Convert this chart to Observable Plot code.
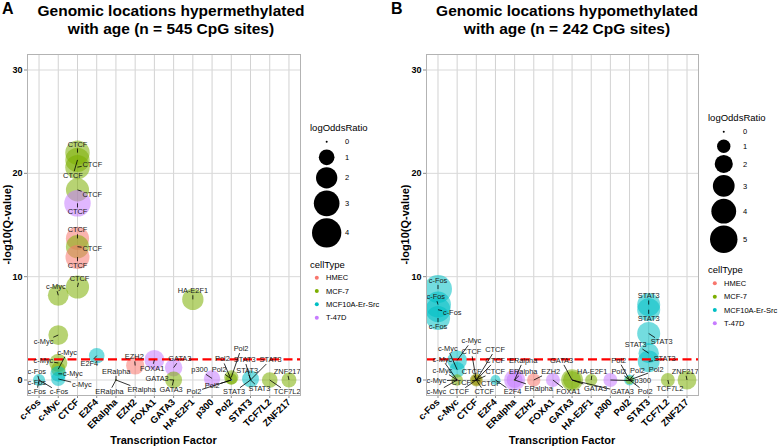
<!DOCTYPE html>
<html><head><meta charset="utf-8">
<script src="https://cdn.jsdelivr.net/npm/d3@7"></script>
<script src="https://cdn.jsdelivr.net/npm/@observablehq/plot@0.6"></script>
<style>
body{margin:0;background:#fff;font-family:"Liberation Sans",Arial,sans-serif;}
#root{position:relative;width:779px;height:447px;overflow:hidden;background:#fff;}
.abs{position:absolute;}
.title{font-weight:bold;font-size:15.5px;line-height:18.5px;text-align:center;color:#000;white-space:nowrap;}
.tag{font-weight:bold;font-size:16px;line-height:16px;color:#000;}
.ytitle{font-weight:bold;font-size:11px;line-height:11px;height:11px;width:200px;text-align:center;transform:rotate(-90deg);white-space:nowrap;color:#000;}
.xtitle{font-weight:bold;font-size:11px;line-height:11px;width:200px;text-align:center;white-space:nowrap;color:#000;}
#root svg g[aria-label^="x-axis"] text,#root svg g[aria-label^="y-axis"] text{font-weight:bold;fill:#000;}
#root svg g[aria-label^="x-axis"] text{font-size:9.5px;}
#root svg g[aria-label^="y-axis"] text{font-size:9px;}
#root svg g[aria-label^="x-axis"] path,#root svg g[aria-label^="y-axis"] path,#root svg g[aria-label^="x-axis"] line,#root svg g[aria-label^="y-axis"] line{stroke:#8a8a8a;}
</style></head>
<body><div id="root"></div>
<script>
// ---------- data ----------
const tfNames = ["c-Fos","c-Myc","CTCF","E2F4","ERalpha","EZH2","FOXA1","GATA3","HA-E2F1","p300","Pol2","STAT3","TCF7L2","ZNF217"];
const cellTypes = ["HMEC","MCF-7","MCF10A-Er-Src","T-47D"];
const cellColors = ["#F8766D","#7CAE00","#00BFC4","#C77CFF"];
const yTicks = [0,10,20,30];
const qCutoff = 2;
const sizeBreaksA = [0,1,2,3,4];
const sizeBreaksB = [0,1,2,3,4,5];

// Panel A: hypermethylated with age
const hyperTF = ["c-Fos","c-Fos","c-Fos","c-Fos",
  "c-Myc","c-Myc","c-Myc","c-Myc","c-Myc","c-Myc",
  "CTCF","CTCF","CTCF","CTCF","CTCF","CTCF","CTCF","CTCF","CTCF",
  "E2F4","ERalpha","ERalpha","ERalpha","EZH2","FOXA1",
  "GATA3","GATA3","GATA3","HA-E2F1","p300",
  "Pol2","Pol2","Pol2","Pol2","Pol2",
  "STAT3","STAT3","STAT3","STAT3","STAT3","TCF7L2","ZNF217"];
const hyperCell = ["MCF10A-Er-Src","HMEC","MCF-7","T-47D",
  "MCF-7","MCF-7","MCF-7","MCF-7","MCF10A-Er-Src","MCF10A-Er-Src",
  "MCF-7","MCF-7","MCF-7","MCF-7","T-47D","HMEC","MCF-7","HMEC","MCF-7",
  "MCF10A-Er-Src","MCF-7","T-47D","MCF-7","HMEC","T-47D",
  "T-47D","MCF-7","MCF-7","MCF-7","T-47D",
  "MCF-7","MCF-7","HMEC","T-47D","MCF10A-Er-Src",
  "MCF10A-Er-Src","MCF10A-Er-Src","MCF10A-Er-Src","MCF10A-Er-Src","MCF10A-Er-Src","MCF-7","MCF-7"];
const hyperQ = [0.0,0.0,0.0,0.0,
  8.2,4.35,1.65,1.05,0.6,0.1,
  22.0,21.3,20.6,18.4,17.1,13.7,12.9,11.9,9.0,
  2.35,0,0,0,1.4,1.95,
  1.2,0.0,0,7.8,0.15,
  0.25,0.1,0,0,0,
  0.1,0,0,0,0,0.0,0.0];
const hyperLOR = [0.55,0,0,0,
  1.9,1.7,1.4,0.8,1.0,0.8,
  2.7,2.7,2.7,2.4,3.2,2.4,2.4,2.6,2.4,
  1.0,0,0,0,1.4,1.7,
  1.3,1.2,0,2.0,1.1,
  0.8,0.5,0,0,0,
  1.2,0,0,0,0,1.0,0.9];

// Panel B: hypomethylated with age
const hypoTF = ["c-Fos","c-Fos","c-Fos","c-Fos",
  "c-Myc","c-Myc","c-Myc","c-Myc","c-Myc","c-Myc",
  "CTCF","CTCF","CTCF","CTCF","CTCF","CTCF","CTCF","CTCF","CTCF",
  "E2F4","ERalpha","ERalpha","ERalpha","EZH2","FOXA1",
  "GATA3","GATA3","GATA3","HA-E2F1","p300",
  "Pol2","Pol2","Pol2","Pol2","Pol2",
  "STAT3","STAT3","STAT3","STAT3","STAT3","TCF7L2","ZNF217"];
const hypoCell = ["MCF10A-Er-Src","MCF10A-Er-Src","MCF10A-Er-Src","MCF10A-Er-Src",
  "MCF10A-Er-Src","MCF10A-Er-Src","MCF-7","HMEC","MCF-7","T-47D",
  "MCF-7","HMEC","MCF-7","MCF-7","HMEC","T-47D","MCF10A-Er-Src","MCF-7","T-47D",
  "MCF10A-Er-Src","T-47D","T-47D","MCF-7","HMEC","T-47D",
  "MCF-7","MCF-7","T-47D","MCF-7","T-47D",
  "MCF10A-Er-Src","MCF-7","HMEC","T-47D","MCF-7",
  "MCF10A-Er-Src","MCF10A-Er-Src","MCF10A-Er-Src","MCF10A-Er-Src","MCF10A-Er-Src","MCF-7","MCF-7"];
const hypoQ = [8.8,7.3,6.8,6.0,
  1.9,1.0,0.0,0,0,0,
  0,0,0,0,0,0,0,0,0,
  0,0,0,0,0,0,
  0,0,0,0,0,
  0,0,0,0,0,
  7.3,6.8,4.5,2.6,1.8,0,0];
const hypoLOR = [5.2,4.4,4.0,3.8,
  2.4,1.4,0.7,0,0,0,
  0.9,0.7,0.6,0,0,0,0,0,0,
  0.5,2.8,1.5,0,1.0,1.1,
  3.0,2.0,0,0.8,1.1,
  0.6,0.3,0,0,0,
  3.4,3.4,3.4,2.6,3.0,1.1,2.2];

// ---------- helpers ----------
const root = document.getElementById("root");
const ctx = document.createElement("canvas").getContext("2d");
const LABEL_FS = 7.4;
ctx.font = LABEL_FS + "px 'Liberation Sans', Arial, sans-serif";
function textW(s){ return ctx.measureText(s).width; }

// simple force-directed label repulsion (ggrepel-like), in pixel space
function repel(pts, sizes, box){
  const n = pts.length;
  const L = pts.map((p,i)=>{ const a = i*2.399963 + 0.7; return {x:p.x+2*Math.cos(a), y:p.y+4*Math.sin(a)}; });
  const pad = 2.0, pr = 3, VY = 3;
  const clampL = (a,i)=>{ const w2 = sizes[i].w/2, h2 = sizes[i].h/2;
    a.x = Math.max(box.x0+w2, Math.min(box.x1-w2, a.x));
    a.y = Math.max(box.y0+h2, Math.min(box.y1-h2, a.y)); };
  const iters = 5000;
  for (let it=0; it<iters; it++){
    const mv = [];
    const k = it < 3500 ? 0.009 : 0.002;
    for (let i=0;i<n;i++){
      const a = L[i], wa = sizes[i].w/2+pad, ha = sizes[i].h/2+pad;
      let fx=0, fy=0;
      for (let j=0;j<n;j++){
        const p = pts[j];
        let dx = a.x-p.x, dy = a.y-p.y;
        const ox = wa+pr-Math.abs(dx), oy = ha+pr-Math.abs(dy);
        if (ox>0 && oy>0){
          let ux = dx, uy = dy*VY, d = Math.hypot(ux,uy);
          if (d<1e-3){ const ang=i*2.399963; ux=Math.cos(ang); uy=Math.sin(ang); d=1; }
          const m = Math.min(ox,oy);
          fx += ux/d*m*0.4; fy += uy/d*m*0.4;
        }
        if (j!==i){
          const b = L[j], wb = sizes[j].w/2+pad, hb = sizes[j].h/2+pad;
          let ex = a.x-b.x, ey = a.y-b.y;
          const qx = wa+wb-Math.abs(ex), qy = ha+hb-Math.abs(ey);
          if (qx>0 && qy>0){
            let ux = ex, uy = ey*VY, d = Math.hypot(ux,uy);
            if (d<1e-3){ const ang=(i-j)*1.3; ux=Math.cos(ang); uy=Math.sin(ang); d=1; }
            const m = Math.min(qx,qy);
            fx += ux/d*m*0.5; fy += uy/d*m*0.5;
          }
        }
      }
      fx += (pts[i].x-a.x)*k; fy += (pts[i].y-a.y)*k;
      mv.push([fx,fy]);
    }
    for (let i=0;i<n;i++){
      const cap = 2;
      L[i].x += Math.max(-cap,Math.min(cap,mv[i][0]));
      L[i].y += Math.max(-cap,Math.min(cap,mv[i][1]));
      clampL(L[i], i);
    }
  }
  // final pass: resolve any remaining label overlaps by vertical separation
  for (let pass=0; pass<400; pass++){
    let any = false;
    for (let i=0;i<n;i++) for (let j=i+1;j<n;j++){
      const a = L[i], b = L[j];
      const qx = sizes[i].w/2+sizes[j].w/2+0.5-Math.abs(a.x-b.x);
      const qy = sizes[i].h/2+sizes[j].h/2+0.5-Math.abs(a.y-b.y);
      if (qx>0 && qy>0){
        any = true;
        const up = a.y <= b.y ? a : b, dn = up===a ? b : a;
        up.y -= qy/2+0.1; dn.y += qy/2+0.1;
        clampL(a,i); clampL(b,j);
        if (Math.abs(a.y-b.y) < sizes[i].h/2+sizes[j].h/2) { up.y -= qy; clampL(a,i); clampL(b,j); }
      }
    }
    if (!any) break;
  }
  return L;
}

function panel(cfg){
  const data = cfg.tf.map((t,i)=>({tf:t, xi:tfNames.indexOf(t), cell:cfg.cell[i], q:cfg.q[i], lor:cfg.lor[i]}));
  const W = cfg.width, H = 447, mt = 54, mb = 52, ml = cfg.ml, mr = 2;
  const base = {
    width: W, height: H, marginTop: mt, marginBottom: mb, marginLeft: ml, marginRight: mr,
    style: {fontFamily: "'Liberation Sans', Arial, sans-serif", fontSize: "9px", background: "transparent", overflow: "visible"},
    x: {domain: [-0.6, tfNames.length-0.4], ticks: d3.range(tfNames.length), tickFormat: i => tfNames[i], tickRotate: -45, label: null, tickSize: 3, tickPadding: 2},
    y: {domain: [-1.5, 31.5], ticks: yTicks, label: null, tickSize: 3, tickPadding: 2},
    r: {type: "sqrt", domain: cfg.rDomain, range: cfg.rRange},
    color: {domain: cellTypes, range: cellColors}
  };
  const probe = Plot.plot({...base, marks: [Plot.dot(data, {x:"xi", y:"q", r:"lor"})]});
  const sx = probe.scale("x"), sy = probe.scale("y"), sr = probe.scale("r");
  const pts = data.map(d=>({x:sx.apply(d.xi), y:sy.apply(d.q)}));
  const sizes = data.map(d=>({w:textW(d.tf), h:LABEL_FS*0.95}));
  const box = {x0:ml, x1:W-mr, y0:mt, y1:H-mb};
  const L = repel(pts, sizes, box);
  const labels = [], segs = [];
  data.forEach((d,i)=>{
    const c = L[i], p = pts[i];
    labels.push({tf:d.tf, x:sx.invert(c.x), y:sy.invert(c.y)});
    const vx = c.x-p.x, vy = c.y-p.y;
    const hw = sizes[i].w/2+0.8, hh = sizes[i].h/2+0.8;
    const s = Math.min(Math.abs(vx)>1e-6? hw/Math.abs(vx):Infinity, Math.abs(vy)>1e-6? hh/Math.abs(vy):Infinity);
    if (s < 1){
      const ex = c.x - vx*s, ey = c.y - vy*s;
      if (Math.hypot(ex-p.x, ey-p.y) > 2.5)
        segs.push({x1:d.xi, y1:d.q, x2:sx.invert(ex), y2:sy.invert(ey)});
    }
  });
  const plot = Plot.plot({...base, marks: [
    Plot.ruleX(d3.range(tfNames.length), {stroke:"#d2d2d2", strokeWidth:1}),
    Plot.ruleY(yTicks, {stroke:"#d9d9d9", strokeWidth:1}),
    Plot.dot(data, {x:"xi", y:"q", r:"lor", fill:"cell", fillOpacity:0.55, sort:null, clip:true}),
    Plot.ruleY([qCutoff], {stroke:"#ff0000", strokeWidth:2.2, strokeDasharray:"9,4.5"}),
    Plot.link(segs, {x1:"x1", y1:"y1", x2:"x2", y2:"y2", stroke:"#000", strokeWidth:0.8}),
    Plot.text(labels, {x:"x", y:"y", text:"tf", fontSize:LABEL_FS, fill:"#1a1a1a"}),
    Plot.frame({stroke:"#b3b3b3"})
  ]});
  plot.style.position = "absolute";
  plot.style.left = cfg.left + "px";
  plot.style.top = "0px";
  root.appendChild(plot);
  return sr;
}

function legend(sr, breaks, left, key0){
  const W = 79;
  const svg = d3.select(root).append("svg").attr("width", W).attr("height", 447)
    .style("position","absolute").style("left", left+"px").style("top","0px")
    .style("font-family","'Liberation Sans', Arial, sans-serif");
  const rmax = sr.apply(breaks[breaks.length-1]);
  const cx = 10 + rmax;
  svg.append("text").attr("x", 8).attr("y", key0-13.7).attr("dy","0.35em").attr("font-size", 9.5).text("logOddsRatio");
  let y = key0, prevK = null;
  breaks.forEach((b,i)=>{
    const r = sr.apply(b);
    const k = Math.max(2*r+2, 13.6);
    if (prevK !== null) y += (prevK + k)/2;
    svg.append("circle").attr("cx", cx).attr("cy", y).attr("r", r).attr("fill","#000");
    svg.append("text").attr("x", 43).attr("y", y).attr("dy","0.35em").attr("font-size",7.5).text(b);
    prevK = k;
  });
  let ty = y + prevK/2 + 16;
  svg.append("text").attr("x", 8).attr("y", ty).attr("dy","0.35em").attr("font-size", 9.5).text("cellType");
  cellTypes.forEach((c,i)=>{
    const yy = ty + 13.3*(i+1);
    svg.append("circle").attr("cx", 14.8).attr("cy", yy).attr("r", 2).attr("fill", cellColors[i]);
    svg.append("text").attr("x", 24).attr("y", yy).attr("dy","0.35em").attr("font-size",7.5).text(c);
  });
}

function addDiv(cls, html, style){
  const d = document.createElement("div");
  d.className = "abs " + cls; d.innerHTML = html;
  Object.assign(d.style, style);
  root.appendChild(d);
}

const srA = panel({tf:hyperTF, cell:hyperCell, q:hyperQ, lor:hyperLOR, width:302, ml:27, left:0, rDomain:[0,4.2], rRange:[1,15]});
const srB = panel({tf:hypoTF, cell:hypoCell, q:hypoQ, lor:hypoLOR, width:320, ml:46, left:380, rDomain:[0,5.2], rRange:[1,14]});
legend(srA, sizeBreaksA, 302, 141.7);
legend(srB, sizeBreaksB, 700, 131.7);

addDiv("tag", "A", {left:"2px", top:"0.5px"});
addDiv("tag", "B", {left:"391px", top:"0.5px"});
addDiv("title", "Genomic locations hypermethylated<br>with age (n = 545 CpG sites)", {left:"21px", width:"300px", top:"1.9px"});
addDiv("title", "Genomic locations hypomethylated<br>with age (n = 242 CpG sites)", {left:"417px", width:"300px", top:"1.9px"});
addDiv("ytitle", "-log10(Q-value)", {left:(6.5-100)+"px", top:(224.5-5.5)+"px"});
addDiv("ytitle", "-log10(Q-value)", {left:(405-100)+"px", top:(224.5-5.5)+"px"});
addDiv("xtitle", "Transcription Factor", {left:(163.5-100)+"px", top:"434.7px"});
addDiv("xtitle", "Transcription Factor", {left:(562-100)+"px", top:"434.7px"});
</script>
</body></html>
